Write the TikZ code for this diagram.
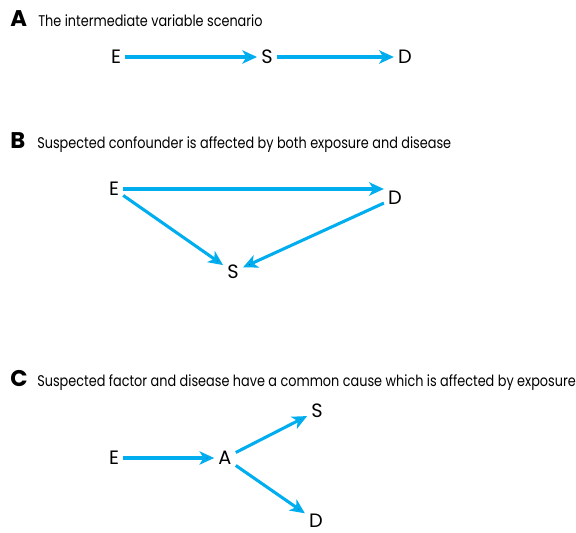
\documentclass[tikz,border=0pt]{standalone}
\usepackage{fontspec}
\setmainfont{Poppins}
\newfontfamily\headfont{Poppins}[FakeStretch=0.83]
\usepackage{tikz}
\definecolor{flowblue}{RGB}{0,174,239}
\tikzset{
     arrow/.style={-{Stealth[length=11pt,width=10pt,inset=3pt]},draw=flowblue,line width=2.3pt},
     var/.style={inner sep=3pt,font=\fontsize{14.5}{14.5}\selectfont},
     panel/.style={anchor=base west,inner sep=0pt,font=\fontsize{17}{17}\selectfont\bfseries},
     caption/.style={anchor=base west,inner sep=0pt,font=\headfont\fontsize{11.6}{11.6}\selectfont}
     }
\usetikzlibrary{positioning,arrows.meta}

\begin{document}
\begin{tikzpicture}[x=0.75pt,y=-0.75pt]
                    \useasboundingbox (0,0) rectangle (576,533);
                    % Panel A
                    \node [panel] (labA) at (10,26) {A};
                    \node [caption] (capA) at (38,26) {The intermediate variable scenario};
                    \node [var] (eA) at (116,57) {E};
                    \node [var] (sA) at (267,57) {S};
                    \node [var] (dA) at (405,57) {D};
                    \path [arrow] (eA) edge (sA);
                    \path [arrow] (sA) edge (dA);
                    % Panel B
                    \node [panel] (labB) at (10,148) {B};
                    \node [caption] (capB) at (37,148) {Suspected confounder is affected by both exposure and disease};
                    \node [var] (eB) at (114,189) {E};
                    \node [var] (dB) at (395,198) {D};
                    \node [var] (sB) at (233,272) {S};
                    \draw [arrow] (eB.east) -- (eB.east -| dB.west);
                    \path [arrow] (eB) edge (sB);
                    \path [arrow] (dB) edge (sB);
                    % Panel C
                    \node [panel] (labC) at (10,386) {C};
                    \node [caption] (capC) at (37,386) {Suspected factor and disease have a common cause which is affected by exposure};
                    \node [var] (eC) at (114,458) {E};
                    \node [var] (aC) at (225,458) {A};
                    \node [var] (sC) at (317,411) {S};
                    \node [var] (dC) at (316,521) {D};
                    \path [arrow] (eC) edge (aC);
                    \path [arrow] (aC) edge (sC);
                    \path [arrow] (aC) edge (dC);
                \end{tikzpicture}
\end{document}
